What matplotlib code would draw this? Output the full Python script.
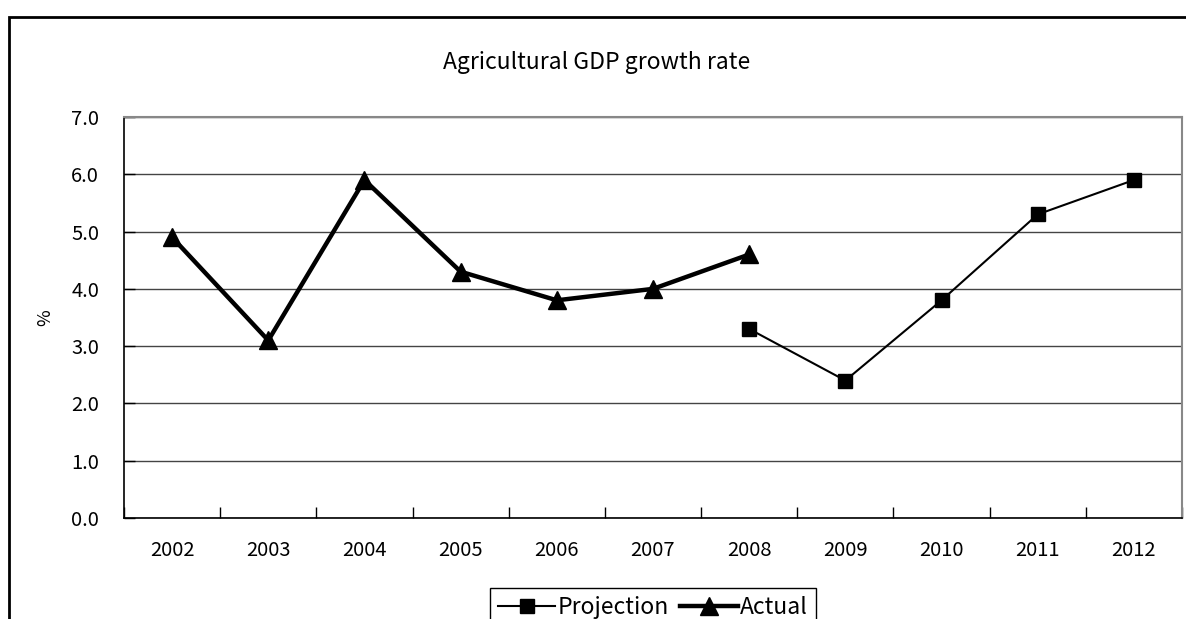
import numpy as np
import matplotlib.pyplot as plt
from matplotlib.patches import Rectangle
from matplotlib.lines import Line2D

plt.rcParams['font.family'] = ['Noto Sans CJK JP', 'DejaVu Sans']

years = ['2002', '2003', '2004', '2005', '2006', '2007', '2008', '2009', '2010', '2011', '2012']
actual_years = ['2002', '2003', '2004', '2005', '2006', '2007', '2008']
actual = [4.9, 3.1, 5.9, 4.3, 3.8, 4.0, 4.6]
proj_years = ['2008', '2009', '2010', '2011', '2012']
projection = [3.3, 2.4, 3.8, 5.3, 5.9]
yticks = [0, 1, 2, 3, 4, 5, 6, 7]

W, H = 1186, 619
fig = plt.figure(figsize=(W / 100, H / 100), dpi=100)

# outer chart frame (cut off at right and bottom)
fig.patches.append(Rectangle((9 / W, -0.1), 1.2, 1 - 17 / H + 0.1, transform=fig.transFigure,
                             fill=False, edgecolor='black', linewidth=2))

left, right, top, bottom = 124, 1182, 117, 518
ax = fig.add_axes([left / W, 1 - bottom / H, (right - left) / W, (bottom - top) / H])

xi = {y: i for i, y in enumerate(years)}
ax.plot([xi[y] for y in proj_years], projection, color='black', lw=1.5,
        marker='s', markersize=10, label='Projection')
ax.plot([xi[y] for y in actual_years], actual, color='black', lw=3.2,
        marker='^', markersize=13, label='Actual')

ax.set_xlim(-0.5, len(years) - 0.5)
ax.set_ylim(0, 7)
ax.set_yticks(yticks)
ax.set_yticklabels([f'{v:.1f}' for v in yticks], fontsize=14.5)
ax.set_xticks(np.arange(len(years) + 1) - 0.5)
ax.set_xticklabels([])
ax.set_xticks(range(len(years)), minor=True)
ax.set_xticklabels(years, minor=True, fontsize=14.5)
ax.tick_params(axis='x', which='major', direction='in', length=8, width=1)
ax.tick_params(axis='x', which='minor', length=0, pad=16)
ax.tick_params(axis='y', direction='in', length=8, width=1, pad=18)
ax.grid(axis='y', color='#444444', lw=1)
ax.set_axisbelow(True)

for s in ['top', 'right']:
    ax.spines[s].set_color('#888888')
    ax.spines[s].set_linewidth(1.5)
for s in ['left', 'bottom']:
    ax.spines[s].set_color('black')
    ax.spines[s].set_linewidth(1.2)

fig.text(45 / W, 1 - 318 / H, '%', rotation=90, ha='center', va='center', fontsize=13)
fig.text(597 / W, 1 - 62 / H, 'Agricultural GDP growth rate', ha='center', va='center', fontsize=16.5)

handles = [Line2D([], [], color='black', lw=1.5, marker='s', markersize=10),
           Line2D([], [], color='black', lw=3.2, marker='^', markersize=13)]
fig.legend(handles, ['Projection', 'Actual'], loc='upper center',
           bbox_to_anchor=(653 / W, 1 - 588 / H), ncol=2, fontsize=16.5, frameon=True,
           fancybox=False, edgecolor='black', framealpha=1, borderpad=0.35,
           handlelength=2.5, handletextpad=0.1, columnspacing=0.5, borderaxespad=0)

fig.savefig('out.png', dpi=100)
